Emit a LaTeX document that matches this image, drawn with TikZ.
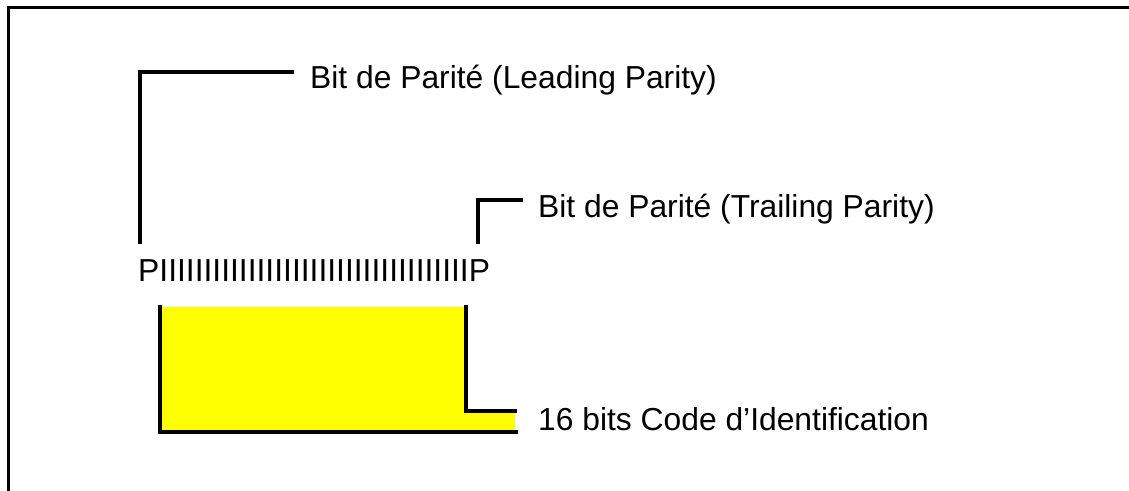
\documentclass[tikz,border=0pt]{standalone}
\usepackage{fontspec}
\setmainfont{Liberation Sans}
\definecolor{pureyellow}{RGB}{255,255,0}
\begin{document}
\begin{tikzpicture}[x=1pt,y=-1pt,
  lbl/.style={inner sep=0pt,anchor=base west,font=\fontsize{31.8}{38}\selectfont},
  blk/.style={line width=3.6pt,line cap=rect,line join=miter},
  frm/.style={line width=3pt}]
\useasboundingbox (0,0) rectangle (1129,490);
% frame (only left and top visible)
\draw[frm] (8,500) -- (8,7) -- (1140,7);
% texts
\node[lbl] (lead) at (310,88) {Bit de Parité (Leading Parity)};
\node[lbl] (trail) at (538,217) {Bit de Parité (Trailing Parity)};
\node[lbl] (bits) at (138,281) {PIIIIIIIIIIIIIIIIIIIIIIIIIIIIIIIIIIIP};
\node[lbl] (code) at (538,430) {16 bits Code d’Identification};
% leading parity bracket
\coordinate (l1) at (140,242);
\coordinate (l2) at (140,72);
\coordinate (l3) at (292,72);
\draw[blk] (l1) -- (l2) -- (l3);
% trailing parity bracket
\coordinate (t1) at (478,242);
\coordinate (t2) at (478,200);
\coordinate (t3) at (521,200);
\draw[blk] (t1) -- (t2) -- (t3);
% yellow block
\fill[pureyellow] (160,307) -- (465,307) -- (465,411) -- (515,411) -- (515,432) -- (160,432) -- cycle;
\draw[blk] (160,307) -- (160,432) -- (516,432);
\draw[blk] (466,307) -- (466,411) -- (515,411);
\end{tikzpicture}
\end{document}
